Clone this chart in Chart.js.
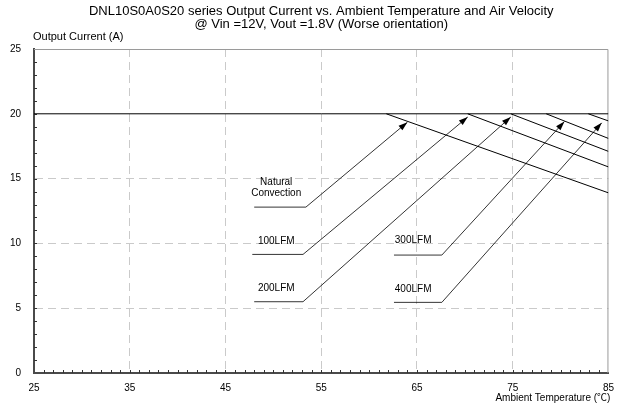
<!DOCTYPE html>
<html lang="en">
<head>
    <meta charset="UTF-8">
    <title>DNL10S0A0S20 derating</title>
    <script src="https://cdn.jsdelivr.net/npm/chart.js"></script>
    <style>
        html, body { margin: 0; padding: 0; background: #fff; }
        #wrap { width: 623px; height: 410px; }
    </style>
</head>
<body>
    <div id="wrap"><canvas id="deratingChart" width="623" height="410"></canvas></div>

    <script>
        // ambient temperature (C) / output current (A)
        const plateauTemp = [25, 85];
        const plateauCurrent = [20, 20];
        const naturalTemp = [61.8, 85];
        const naturalCurrent = [20, 13.9];
        const lfm100Temp = [70.3, 85];
        const lfm100Current = [20, 15.9];
        const lfm200Temp = [74.8, 85];
        const lfm200Current = [20, 17.1];
        const lfm300Temp = [78.5, 85];
        const lfm300Current = [20, 18.1];
        const lfm400Temp = [82.9, 85];
        const lfm400Current = [20, 19.45];

        // callout leaders: underline start, corner, arrow tip
        const natArrowX = [48.0, 53.4, 64.0];
        const natArrowY = [12.8, 12.8, 19.35];
        const lfm100ArrowX = [47.8, 53.1, 70.3];
        const lfm100ArrowY = [9.15, 9.15, 19.75];
        const lfm200ArrowX = [48.0, 53.1, 74.8];
        const lfm200ArrowY = [5.5, 5.5, 19.75];
        const lfm300ArrowX = [62.6, 67.6, 80.4];
        const lfm300ArrowY = [9.1, 9.1, 19.4];
        const lfm400ArrowX = [62.6, 67.6, 84.3];
        const lfm400ArrowY = [5.45, 5.45, 19.3];

        const calloutText = ['Natural', 'Convection', '100LFM', '200LFM', '300LFM', '400LFM'];
        const calloutX = [50.3, 50.3, 50.3, 50.3, 64.6, 64.6];
        const calloutY = [14.68, 13.87, 10.19, 6.54, 10.21, 6.48];

        const xTicks = [25, 35, 45, 55, 65, 75, 85];
        const yTicks = [0, 5, 10, 15, 20, 25];

        const titleLines = [
            'DNL10S0A0S20 series Output Current vs. Ambient Temperature and Air Velocity',
            '@ Vin =12V, Vout =1.8V (Worse orientation)'
        ];
        const yTitle = 'Output Current (A)';
        const xTitle = 'Ambient Temperature (\u2103)';

        const FONT = '"Liberation Sans", Arial, sans-serif';

        const pts = (xs, ys) => xs.map((x, i) => ({ x: x, y: ys[i] }));
        const curve = (xs, ys) => ({ data: pts(xs, ys), borderColor: '#000', borderWidth: 1, pointRadius: 0, tension: 0 });
        const leader = (xs, ys) => ({ data: pts(xs, ys), borderColor: '#000', borderWidth: 0.8, pointRadius: 0, tension: 0, arrow: true });

        const dashGrid = (inner) => (c) => inner.includes(c.tick.value) ? '#cacaca' : 'rgba(0,0,0,0)';

        const decorations = {
            id: 'decorations',
            beforeDatasetsDraw(chart) {
                const { ctx, chartArea: a, scales: { x, y } } = chart;
                ctx.save();
                // frame top and right
                ctx.strokeStyle = '#9a9a9a';
                ctx.lineWidth = 1;
                ctx.beginPath();
                ctx.moveTo(a.left, a.top + 0.5);
                ctx.lineTo(a.right - 0.5, a.top + 0.5);
                ctx.lineTo(a.right - 0.5, a.bottom);
                ctx.stroke();
                // inward minor ticks
                ctx.strokeStyle = '#333';
                ctx.beginPath();
                for (let t = xTicks[0] + 1; t < xTicks[xTicks.length - 1]; t++) {
                    const px = Math.round(x.getPixelForValue(t)) + 0.5;
                    ctx.moveTo(px, a.bottom);
                    ctx.lineTo(px, a.bottom - 3);
                }
                for (let v = yTicks[0] + 1; v < yTicks[yTicks.length - 1]; v++) {
                    const py = Math.round(y.getPixelForValue(v)) + 0.5;
                    ctx.moveTo(a.left, py);
                    ctx.lineTo(a.left + 3, py);
                }
                ctx.stroke();
                ctx.restore();
            },
            afterDatasetsDraw(chart) {
                const { ctx, scales: { x, y } } = chart;
                ctx.save();
                // arrow heads
                ctx.fillStyle = '#000';
                chart.data.datasets.forEach((ds) => {
                    if (!ds.arrow) return;
                    const n = ds.data.length;
                    const p1 = ds.data[n - 2], p2 = ds.data[n - 1];
                    const x1 = x.getPixelForValue(p1.x), y1 = y.getPixelForValue(p1.y);
                    const x2 = x.getPixelForValue(p2.x), y2 = y.getPixelForValue(p2.y);
                    const ang = Math.atan2(y2 - y1, x2 - x1);
                    const len = 9, half = 3;
                    ctx.beginPath();
                    ctx.moveTo(x2, y2);
                    ctx.lineTo(x2 - len * Math.cos(ang) + half * Math.sin(ang), y2 - len * Math.sin(ang) - half * Math.cos(ang));
                    ctx.lineTo(x2 - len * Math.cos(ang) - half * Math.sin(ang), y2 - len * Math.sin(ang) + half * Math.cos(ang));
                    ctx.closePath();
                    ctx.fill();
                });
                // callout labels
                ctx.font = '10px ' + FONT;
                ctx.fillStyle = '#000';
                ctx.textAlign = 'center';
                ctx.textBaseline = 'middle';
                calloutText.forEach((t, i) => {
                    ctx.fillText(t, x.getPixelForValue(calloutX[i]), y.getPixelForValue(calloutY[i]));
                });
                ctx.restore();
            },
            afterDraw(chart) {
                const { ctx, chartArea: a } = chart;
                ctx.save();
                ctx.fillStyle = '#000';
                ctx.textBaseline = 'middle';
                ctx.font = '13px ' + FONT;
                ctx.textAlign = 'center';
                const cx = (a.left + a.right) / 2;
                ctx.fillText(titleLines[0], cx, 11);
                ctx.fillText(titleLines[1], cx, 24);
                ctx.font = '11px ' + FONT;
                ctx.textAlign = 'left';
                ctx.fillText(yTitle, a.left - 1, 37);
                ctx.textAlign = 'right';
                ctx.font = '10px "Liberation Sans", "Noto Sans CJK SC", sans-serif';
                ctx.fillText(xTitle, a.right + 2, 398);
                ctx.restore();
            }
        };

        new Chart(document.getElementById('deratingChart'), {
            type: 'line',
            data: {
                datasets: [
                    curve(plateauTemp, plateauCurrent),
                    curve(naturalTemp, naturalCurrent),
                    curve(lfm100Temp, lfm100Current),
                    curve(lfm200Temp, lfm200Current),
                    curve(lfm300Temp, lfm300Current),
                    curve(lfm400Temp, lfm400Current),
                    leader(natArrowX, natArrowY),
                    leader(lfm100ArrowX, lfm100ArrowY),
                    leader(lfm200ArrowX, lfm200ArrowY),
                    leader(lfm300ArrowX, lfm300ArrowY),
                    leader(lfm400ArrowX, lfm400ArrowY)
                ]
            },
            options: {
                responsive: false,
                animation: false,
                layout: { padding: { top: 49, right: 14, left: 0, bottom: 0 } },
                plugins: { legend: { display: false }, tooltip: { enabled: false } },
                scales: {
                    x: {
                        type: 'linear',
                        min: xTicks[0],
                        max: xTicks[xTicks.length - 1],
                        afterFit: (s) => { s.height = 37; },
                        afterBuildTicks: (s) => { s.ticks = xTicks.map(v => ({ value: v })); },
                        ticks: { padding: 9, color: '#000', font: { size: 10, family: FONT } },
                        grid: { drawTicks: false, lineWidth: 1, color: dashGrid([35, 45, 55, 65, 75]) },
                        border: { color: '#4a4a4a', width: 2, dash: [8, 5] }
                    },
                    y: {
                        min: yTicks[0],
                        max: yTicks[yTicks.length - 1],
                        afterFit: (s) => { s.width = 34; },
                        afterBuildTicks: (s) => { s.ticks = yTicks.map(v => ({ value: v })); },
                        ticks: { padding: 13, color: '#000', font: { size: 10, family: FONT } },
                        grid: { drawTicks: false, lineWidth: 1, color: dashGrid([5, 10, 15]) },
                        border: { color: '#4a4a4a', width: 2, dash: [8, 5] }
                    }
                }
            },
            plugins: [decorations]
        });
    </script>
</body>
</html>
